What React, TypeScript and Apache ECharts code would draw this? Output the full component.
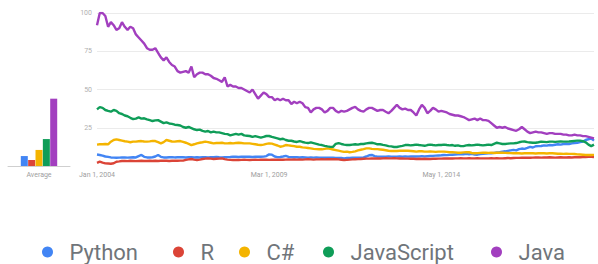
import React, { useEffect, useRef } from "react";
import * as echarts from "echarts";

const seriesNames = ["Python", "R", "C#", "JavaScript", "Java"];
const seriesColors = ["#4285f4", "#db4437", "#f4b400", "#0f9d58", "#a23fbf"];

const monthNames = ["Jan", "Feb", "Mar", "Apr", "May", "Jun", "Jul", "Aug", "Sep", "Oct", "Nov", "Dec"];
const startYear = 2004;
const monthCount = 180;
const shownTickIndexes = [0, 62, 124];
const yTicks = [0, 25, 50, 75, 100];

const averages = [6.5, 4, 10.5, 17.6, 44];

const python = [
  7.5, 7.2, 6.8, 6.2, 6, 5.6, 5.5, 5.4, 5.5, 5.6,
  5.6, 5.5, 5.6, 5.7, 5.6, 6.5, 7.2, 6, 5.6, 5.6,
  5.7, 6.2, 7.2, 6, 5.6, 5.6, 5.7, 5.8, 5.6, 5.7,
  5.8, 5.7, 5.6, 5.7, 5.8, 5.6, 5.7, 5.6, 5.8, 5.7,
  5.6, 5.7, 5.8, 5.9, 5.7, 5.6, 5.7, 5.8, 5.9, 6.1,
  6, 5.9, 6.1, 6, 6.1, 6, 5.9, 6, 6.1, 6,
  6.1, 6.5, 7.6, 7.4, 6.2, 5.8, 5.9, 6.2, 6.6, 6,
  5.7, 5.8, 5.7, 5.6, 5.7, 5.6, 5.5, 5.6, 5.5, 5.6,
  5.5, 5.4, 5.5, 5.4, 5.5, 5.4, 5.3, 5.2, 5.2, 5,
  5.2, 5.3, 5.4, 5.5, 5.4, 5.5, 5.6, 6.2, 7, 7.2,
  6.5, 6.1, 6.1, 6, 6.1, 6.2, 6.1, 6, 6.1, 6.2,
  6.1, 6.2, 6.1, 6.2, 6.3, 6.2, 6.3, 6.4, 6.3, 6.4,
  6.5, 6.6, 6.8, 6.9, 7, 7.2, 7.1, 7.3, 7.4, 7.5,
  7.6, 7.8, 7.7, 7.9, 7.6, 8, 7.5, 7.4, 7.8, 7.9,
  8.1, 8.3, 8.3, 8.6, 8.9, 9.1, 9.4, 9.6, 9.9, 10.2,
  10.5, 10.2, 11, 11.4, 11.2, 11.8, 12.5, 12.1, 12.9, 13,
  13.1, 13.5, 13.3, 13.7, 13.6, 13.9, 14.2, 14, 14.4, 14.5,
  14.3, 14.8, 15, 15.2, 15.6, 16, 17, 17.5, 18, 16.6,
];

const r = [
  2, 2.8, 2.2, 1.7, 1.6, 1.5, 1.8, 2.8, 3, 3.3,
  3.3, 3.2, 3.4, 3.3, 3.2, 3.3, 3.4, 3.3, 3.3, 3.4,
  3.3, 3.4, 3.3, 3.4, 3.5, 3.4, 3.3, 3.4, 3.5, 3.4,
  3.5, 3.5, 4, 4.3, 4.6, 4.2, 3.9, 4.2, 4.6, 4.8,
  5, 4.8, 4.6, 4.7, 4.8, 5, 4.5, 4.2, 4, 3.9,
  4, 3.9, 4, 4.1, 4, 3.9, 4, 4.1, 4, 4.1,
  4.2, 4.1, 4, 4.1, 4.2, 4.1, 4.2, 4.1, 4.2, 4.3,
  4.2, 4.3, 4.2, 4.3, 4.2, 4.3, 4.4, 4.3, 4.2, 4.3,
  4.3, 4.4, 4.3, 4.4, 4.5, 4.4, 4.5, 4.3, 4.1, 3.9,
  4, 4.2, 4.3, 4.4, 4.5, 4.6, 4.7, 4.8, 4.8, 4.9,
  4.9, 5, 4.9, 5, 5.1, 5, 5, 5.1, 5, 4.9,
  4.9, 4.8, 4.8, 4.7, 4.7, 4.6, 4.7, 4.6, 4.7, 4.6,
  4.6, 4.7, 4.7, 4.8, 4.8, 4.9, 4.9, 5, 4.9, 5,
  5, 5.1, 5, 5, 5.1, 5, 5, 5.1, 5, 5,
  5, 5, 5.1, 5, 5.1, 5, 5, 5.1, 5.2, 5.1,
  5.2, 5.3, 5.3, 5.4, 5.4, 5.5, 5.4, 5.5, 5.6, 5.6,
  5.5, 5.6, 5.6, 5.7, 5.6, 5.5, 5.6, 5.7, 5.6, 5.6,
  5.7, 5.6, 5.7, 5.8, 5.7, 5.8, 5.9, 6, 6, 5.9,
];

const csharp = [
  14, 14.2, 14.2, 14.4, 14.2, 15.9, 17, 17.4, 17, 16.6,
  16.2, 15.9, 15.5, 15.9, 15.9, 16.2, 16.3, 16, 15.9, 16.1,
  16.4, 16.3, 15.6, 14.8, 15.6, 17, 16.5, 16, 15.9, 16.2,
  16.3, 15.8, 15.2, 14.5, 13.7, 14.2, 14.8, 15.2, 15.5, 15.9,
  15.6, 15.2, 14.8, 15, 15, 15.2, 14.8, 14.8, 15, 14.8,
  15, 15.2, 15, 14.8, 14.8, 14.8, 14.5, 14.2, 13.9, 13.7,
  14, 14.5, 14.8, 14.6, 14, 13.4, 12.6, 13, 13.7, 13.5,
  13.2, 13, 12.6, 12.6, 12.2, 12, 11.8, 11.5, 11.2, 11,
  10.9, 10.9, 11.2, 11.5, 11.2, 10.8, 10.4, 10, 9.6, 9.2,
  9.4, 9, 9.2, 9.6, 10.2, 10.6, 11, 11.5, 11.5, 11.2,
  11, 11, 10.8, 10.6, 10.3, 10, 9.8, 9.8, 9.8, 10,
  10, 10, 10, 9.8, 9.6, 9.4, 9.6, 9.6, 9.4, 9.4,
  9.5, 9.4, 9.2, 9.4, 9.4, 9.4, 9.2, 9, 9, 8.9,
  8.7, 8.7, 8.9, 9.1, 9, 8.5, 8.3, 8.4, 8.6, 8.7,
  8.7, 8.6, 8.7, 8.5, 8.7, 8.7, 8.7, 8.6, 8.5, 8.4,
  8.3, 8.3, 8.3, 8.2, 8.3, 8.3, 8.4, 8.3, 8.2, 8.3,
  8.3, 8.3, 8.2, 8.3, 8.3, 8.2, 8, 8, 7.9, 8,
  7.9, 7.9, 7.8, 7.6, 7.5, 7.4, 7.2, 7.2, 7.2, 7.3,
];

const javascript = [
  37, 38.5, 38, 36.6, 36, 35.5, 36.6, 36, 34.5, 34,
  33, 32.5, 31.5, 30.7, 31, 31.8, 31, 31.2, 30.5, 30,
  29.4, 29.8, 30, 29, 28, 28.5, 27.8, 27.5, 27, 26.8,
  26.5, 25.5, 25, 25.5, 24.8, 24, 23.5, 23.8, 23, 22.5,
  22.9, 22, 22.5, 22, 22, 21.5, 21, 20.8, 20, 20.5,
  21, 20.5, 21, 20, 19.8, 19.6, 19, 19.5, 19, 18.5,
  19, 19.6, 19.6, 19, 18.5, 18, 17.5, 17.8, 17, 16.5,
  16.5, 16, 15.7, 16.3, 15.7, 15.3, 15, 15.5, 15, 14.5,
  14, 13.7, 13.2, 12.8, 12.5, 12.5, 14.5, 15, 14.4, 14,
  13.7, 13.7, 14, 14.2, 14, 14.4, 14.4, 14.8, 15, 15.2,
  14.8, 14.2, 14.2, 13.8, 13.5, 13, 12.8, 12.4, 12.4, 12.8,
  13.2, 13.7, 13.7, 13.5, 13.7, 14, 13.7, 13.5, 13.2, 13.7,
  14, 13.7, 13.5, 13.7, 13.7, 14, 13.7, 13.5, 13.7, 13.2,
  13.5, 13, 13, 13.5, 13.7, 13.5, 13.7, 14, 13.7, 13.5,
  13.7, 14, 13.7, 14.5, 15.2, 14.8, 14.4, 14.4, 14.6, 14.8,
  14.8, 15, 15.5, 15.9, 16, 15.6, 15.4, 15.2, 15.2, 15.5,
  15.9, 15.8, 15.6, 15.9, 15.9, 15.8, 15.9, 16, 15.9, 15.9,
  16, 16.2, 16.4, 16.6, 16.6, 16.2, 15.5, 14, 13, 14,
];

const java = [
  92, 100, 100, 98, 91, 94, 92, 89, 90, 94,
  91, 89, 91, 90, 86, 84, 82, 80, 77, 76,
  76, 77, 74, 71, 69, 71, 68, 66, 65, 62,
  61, 61.5, 62, 61, 65, 58, 60, 61, 61, 60,
  60, 59, 57.5, 57, 56, 55, 58, 52, 53, 52,
  52, 51, 51, 50, 49, 48, 50, 47, 44, 46,
  48, 47, 45, 45, 43, 44, 43, 44, 43, 43,
  40.5, 42, 41, 42, 41, 38.5, 38, 35, 37, 38,
  38, 37, 35, 36, 38, 38, 36, 35, 36, 35.5,
  36, 37, 38, 38.6, 37, 36, 35.5, 37, 38, 38,
  37, 36, 36.6, 36.6, 35.5, 34.5, 36, 38, 40, 38,
  37, 37.5, 36.6, 36.6, 35, 33, 37, 40, 38, 34.5,
  36, 38, 37, 35.5, 36, 35.5, 35, 34, 33.5, 33,
  33, 32.5, 32, 31, 30, 30.5, 31, 30, 31, 30,
  30, 29.5, 28, 26.5, 25, 25.5, 25, 25.5, 24.5, 24,
  23.5, 23, 24, 25.5, 24, 22.5, 21.5, 22, 22.5, 22,
  22, 21.5, 21, 21.5, 21.5, 21, 21, 21, 20.5, 20.5,
  20, 20, 20.5, 20, 20, 19.5, 19.5, 19, 18.5, 18,
];

const lineData = [python, r, csharp, javascript, java];

const categories: string[] = [];
for (let i = 0; i < monthCount; i++) {
  const y = startYear + Math.floor(i / 12);
  categories.push(`${monthNames[i % 12]} 1, ${y}`);
}

// layout: left edge of each legend item
const legendLefts = [42, 173, 239, 323, 491];

export default function App() {
  const ref = useRef<HTMLDivElement>(null);
  useEffect(() => {
    document.body.style.margin = "0";
    if (!ref.current) return;
    const chart = echarts.init(ref.current, undefined, { renderer: "svg" });
    const font = "Roboto, 'Noto Sans', sans-serif";
    const lineSeries = seriesNames.map((name, k) => ({
      name,
      type: "line",
      xAxisIndex: 0,
      yAxisIndex: 0,
      data: lineData[k],
      showSymbol: false,
      symbol: "circle",
      lineStyle: { width: 2.4, color: seriesColors[k] },
      itemStyle: { color: seriesColors[k] },
      z: 3 + k,
    }));
    const barSeries = seriesNames.map((name, k) => ({
      name,
      type: "bar",
      xAxisIndex: 1,
      yAxisIndex: 1,
      data: [averages[k]],
      barWidth: 7,
      barGap: "5%",
      itemStyle: { color: seriesColors[k] },
    }));
    const legends = seriesNames.map((name, k) => ({
      data: [name],
      left: legendLefts[k],
      top: 241,
      padding: 0,
      icon: "circle",
      itemWidth: 34,
      itemHeight: 11,
      textStyle: { fontSize: 22, color: "#70757a", fontFamily: font },
    }));
    chart.setOption({
      animation: false,
      textStyle: { fontFamily: font },
      color: seriesColors,
      grid: [
        { left: 97, right: 4, top: 13, bottom: 98 },
        { left: 8, right: 528, top: 13, bottom: 98 },
      ],
      xAxis: [
        {
          type: "category",
          gridIndex: 0,
          data: categories,
          boundaryGap: false,
          axisLine: { show: false },
          axisTick: { show: false },
          axisLabel: {
            interval: (index: number) => shownTickIndexes.includes(index),
            fontSize: 7,
            color: "#9e9e9e",
            margin: 5,
            fontFamily: font,
          },
        },
        {
          type: "category",
          gridIndex: 1,
          data: ["Average"],
          axisLine: { show: true, lineStyle: { color: "#cfcfcf", width: 1 } },
          axisTick: { show: false },
          axisLabel: { fontSize: 7, color: "#9e9e9e", margin: 5, fontFamily: font },
        },
      ],
      yAxis: [
        {
          type: "value",
          gridIndex: 0,
          min: yTicks[0],
          max: yTicks[yTicks.length - 1],
          interval: 25,
          axisLine: { show: false },
          axisTick: { show: false },
          axisLabel: {
            fontSize: 7,
            color: "#b0b0b0",
            margin: 5,
            fontFamily: font,
            formatter: (v: number) => (v === 0 ? "" : String(v)),
          },
          splitLine: {
            show: true,
            lineStyle: {
              color: ["rgba(0,0,0,0)", "#ebebeb", "#ebebeb", "#ebebeb", "#ebebeb"],
              width: 1,
            },
          },
        },
        {
          type: "value",
          gridIndex: 1,
          min: 0,
          max: 100,
          show: false,
        },
      ],
      legend: legends,
      series: [...lineSeries, ...barSeries],
    });
    return () => chart.dispose();
  }, []);
  return <div ref={ref} style={{ width: 598, height: 264 }} />;
}
